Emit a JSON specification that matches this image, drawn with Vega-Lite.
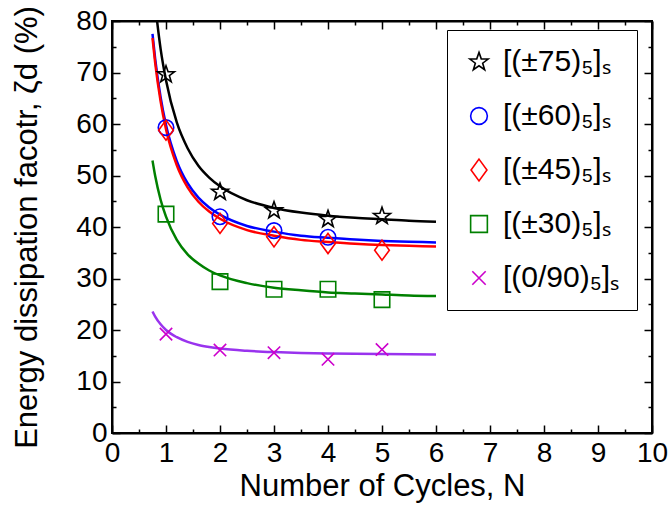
{
  "$schema": "https://vega.github.io/schema/vega-lite/v6.json",
  "width": 540,
  "height": 412,
  "autosize": "none",
  "padding": {"left": 112, "top": 21, "right": 18, "bottom": 82},
  "background": "white",
  "config": {
    "font": "Liberation Sans",
    "view": {"stroke": "black", "strokeWidth": 2},
    "axis": {"grid": false, "domainColor": "black", "domainWidth": 2, "tickColor": "black", "tickWidth": 1.5, "labelColor": "black", "titleColor": "black", "labelFontSize": 28, "titleFontSize": 31, "titleFontWeight": "normal", "labelFont": "Liberation Sans", "titleFont": "Liberation Sans"}
  },
  "datasets": {
    "pts": [
      {"series": "[(±75)₅]ₛ", "x": 1, "y": 69.6},
      {"series": "[(±75)₅]ₛ", "x": 2, "y": 46.8},
      {"series": "[(±75)₅]ₛ", "x": 3, "y": 43.2},
      {"series": "[(±75)₅]ₛ", "x": 4, "y": 41.5},
      {"series": "[(±75)₅]ₛ", "x": 5, "y": 42.1},
      {"series": "[(±60)₅]ₛ", "x": 1, "y": 59.3},
      {"series": "[(±60)₅]ₛ", "x": 2, "y": 42.0},
      {"series": "[(±60)₅]ₛ", "x": 3, "y": 39.3},
      {"series": "[(±60)₅]ₛ", "x": 4, "y": 38.0},
      {"series": "[(±45)₅]ₛ", "x": 1, "y": 58.8},
      {"series": "[(±45)₅]ₛ", "x": 2, "y": 40.7},
      {"series": "[(±45)₅]ₛ", "x": 3, "y": 38.1},
      {"series": "[(±45)₅]ₛ", "x": 4, "y": 36.8},
      {"series": "[(±45)₅]ₛ", "x": 5, "y": 35.5},
      {"series": "[(±30)₅]ₛ", "x": 1, "y": 42.5},
      {"series": "[(±30)₅]ₛ", "x": 2, "y": 29.4},
      {"series": "[(±30)₅]ₛ", "x": 3, "y": 27.9},
      {"series": "[(±30)₅]ₛ", "x": 4, "y": 27.9},
      {"series": "[(±30)₅]ₛ", "x": 5, "y": 25.9},
      {"series": "[(0/90)₅]ₛ", "x": 1, "y": 19.2},
      {"series": "[(0/90)₅]ₛ", "x": 2, "y": 16.1},
      {"series": "[(0/90)₅]ₛ", "x": 3, "y": 15.6},
      {"series": "[(0/90)₅]ₛ", "x": 4, "y": 14.3},
      {"series": "[(0/90)₅]ₛ", "x": 5, "y": 16.2}
    ],
    "fit": [
      {"curve": "fit75", "x": 0.8, "y": 83.1},
      {"curve": "fit75", "x": 0.9, "y": 74.6},
      {"curve": "fit75", "x": 1, "y": 68.5},
      {"curve": "fit75", "x": 1.2, "y": 60.3},
      {"curve": "fit75", "x": 1.4, "y": 55.3},
      {"curve": "fit75", "x": 1.6, "y": 51.9},
      {"curve": "fit75", "x": 1.8, "y": 49.6},
      {"curve": "fit75", "x": 2, "y": 47.9},
      {"curve": "fit75", "x": 2.5, "y": 45.2},
      {"curve": "fit75", "x": 3, "y": 43.7},
      {"curve": "fit75", "x": 3.5, "y": 42.8},
      {"curve": "fit75", "x": 4, "y": 42.2},
      {"curve": "fit75", "x": 4.5, "y": 41.8},
      {"curve": "fit75", "x": 5, "y": 41.5},
      {"curve": "fit75", "x": 5.5, "y": 41.2},
      {"curve": "fit75", "x": 6, "y": 41.0},
      {"curve": "fit60", "x": 0.75, "y": 77.5},
      {"curve": "fit60", "x": 0.8, "y": 72.6},
      {"curve": "fit60", "x": 0.9, "y": 65.2},
      {"curve": "fit60", "x": 1, "y": 59.8},
      {"curve": "fit60", "x": 1.2, "y": 52.8},
      {"curve": "fit60", "x": 1.4, "y": 48.5},
      {"curve": "fit60", "x": 1.6, "y": 45.7},
      {"curve": "fit60", "x": 1.8, "y": 43.8},
      {"curve": "fit60", "x": 2, "y": 42.4},
      {"curve": "fit60", "x": 2.5, "y": 40.2},
      {"curve": "fit60", "x": 3, "y": 39.1},
      {"curve": "fit60", "x": 3.5, "y": 38.3},
      {"curve": "fit60", "x": 4, "y": 37.9},
      {"curve": "fit60", "x": 4.5, "y": 37.55},
      {"curve": "fit60", "x": 5, "y": 37.3},
      {"curve": "fit60", "x": 5.5, "y": 37.15},
      {"curve": "fit60", "x": 6, "y": 37.0},
      {"curve": "fit45", "x": 0.75, "y": 76.7},
      {"curve": "fit45", "x": 0.8, "y": 71.8},
      {"curve": "fit45", "x": 0.9, "y": 64.4},
      {"curve": "fit45", "x": 1, "y": 59.0},
      {"curve": "fit45", "x": 1.2, "y": 52.0},
      {"curve": "fit45", "x": 1.4, "y": 47.7},
      {"curve": "fit45", "x": 1.6, "y": 44.9},
      {"curve": "fit45", "x": 1.8, "y": 43.0},
      {"curve": "fit45", "x": 2, "y": 41.6},
      {"curve": "fit45", "x": 2.5, "y": 39.4},
      {"curve": "fit45", "x": 3, "y": 38.3},
      {"curve": "fit45", "x": 3.5, "y": 37.5},
      {"curve": "fit45", "x": 4, "y": 37.1},
      {"curve": "fit45", "x": 4.5, "y": 36.75},
      {"curve": "fit45", "x": 5, "y": 36.5},
      {"curve": "fit45", "x": 5.5, "y": 36.35},
      {"curve": "fit45", "x": 6, "y": 36.2},
      {"curve": "fit30", "x": 0.75, "y": 52.9},
      {"curve": "fit30", "x": 0.8, "y": 49.9},
      {"curve": "fit30", "x": 0.9, "y": 45.3},
      {"curve": "fit30", "x": 1, "y": 42.0},
      {"curve": "fit30", "x": 1.2, "y": 37.5},
      {"curve": "fit30", "x": 1.4, "y": 34.7},
      {"curve": "fit30", "x": 1.6, "y": 32.9},
      {"curve": "fit30", "x": 1.8, "y": 31.55},
      {"curve": "fit30", "x": 2, "y": 30.6},
      {"curve": "fit30", "x": 2.5, "y": 29.1},
      {"curve": "fit30", "x": 3, "y": 28.2},
      {"curve": "fit30", "x": 3.5, "y": 27.7},
      {"curve": "fit30", "x": 4, "y": 27.3},
      {"curve": "fit30", "x": 4.5, "y": 27.1},
      {"curve": "fit30", "x": 5, "y": 26.9},
      {"curve": "fit30", "x": 5.5, "y": 26.7},
      {"curve": "fit30", "x": 6, "y": 26.6},
      {"curve": "fit090", "x": 0.75, "y": 23.6},
      {"curve": "fit090", "x": 0.8, "y": 22.6},
      {"curve": "fit090", "x": 0.9, "y": 21.1},
      {"curve": "fit090", "x": 1, "y": 20.0},
      {"curve": "fit090", "x": 1.2, "y": 18.6},
      {"curve": "fit090", "x": 1.4, "y": 17.7},
      {"curve": "fit090", "x": 1.6, "y": 17.1},
      {"curve": "fit090", "x": 1.8, "y": 16.7},
      {"curve": "fit090", "x": 2, "y": 16.4},
      {"curve": "fit090", "x": 2.5, "y": 15.96},
      {"curve": "fit090", "x": 3, "y": 15.71},
      {"curve": "fit090", "x": 3.5, "y": 15.55},
      {"curve": "fit090", "x": 4, "y": 15.45},
      {"curve": "fit090", "x": 4.5, "y": 15.38},
      {"curve": "fit090", "x": 5, "y": 15.33},
      {"curve": "fit090", "x": 5.5, "y": 15.29},
      {"curve": "fit090", "x": 6, "y": 15.26}
    ]
  },
  "resolve": {"axis": {"x": "independent", "y": "independent"}},
  "layer": [
    {
      "data": {"name": "fit"},
      "mark": {"type": "line", "clip": true, "strokeWidth": 2.5, "interpolate": "monotone"},
      "encoding": {
        "x": {"field": "x", "type": "quantitative", "scale": {"domain": [0, 10], "nice": false, "zero": false},
              "axis": {"orient": "bottom", "values": [0,1,2,3,4,5,6,7,8,9,10], "tickSize": -8, "labelPadding": 14, "labelFlush": false, "labelOverlap": false, "title": "Number of Cycles, N", "titlePadding": 4}},
        "y": {"field": "y", "type": "quantitative", "scale": {"domain": [0, 80], "nice": false},
              "axis": {"orient": "left", "values": [0,10,20,30,40,50,60,70,80], "tickSize": -8, "labelPadding": 13, "labelFlush": false, "labelOverlap": false, "title": "Energy dissipation facotr, ζd (%)", "titlePadding": 32}},
        "stroke": {"field": "curve", "type": "nominal", "legend": null,
                   "scale": {"domain": ["fit75", "fit60", "fit45", "fit30", "fit090"], "range": ["#000000", "#0000ff", "#ff0000", "#008000", "#9933ee"]}}
      }
    },
    {
      "data": {"name": "pts"},
      "mark": {"type": "point", "filled": false, "strokeWidth": 1.6, "size": 240, "opacity": 1},
      "encoding": {
        "x": {"field": "x", "type": "quantitative",
              "axis": {"orient": "bottom", "values": [0.5,1.5,2.5,3.5,4.5,5.5,6.5,7.5,8.5,9.5], "tickSize": -4, "labels": false, "domain": false, "title": null}},
        "y": {"field": "y", "type": "quantitative",
              "axis": {"orient": "left", "values": [5,15,25,35,45,55,65,75], "tickSize": -4, "labels": false, "domain": false, "title": null}},
        "color": {"field": "series", "type": "nominal",
                  "scale": {"domain": ["[(±75)₅]ₛ", "[(±60)₅]ₛ", "[(±45)₅]ₛ", "[(±30)₅]ₛ", "[(0/90)₅]ₛ"], "range": ["#000000", "#0000ff", "#ff0000", "#008000", "#cc00cc"]},
                  "legend": {"title": null, "orient": "none", "legendX": 335, "legendY": 9, "padding": 17, "strokeColor": "black", "fillColor": "white", "labelFontSize": 30, "labelFont": "Liberation Sans", "labelColor": "black", "labelOffset": 9, "rowPadding": 24, "symbolSize": 280, "symbolStrokeWidth": 1.6, "symbolOpacity": 1, "labelLimit": 300}},
        "shape": {"field": "series", "type": "nominal",
                  "scale": {"domain": ["[(±75)₅]ₛ", "[(±60)₅]ₛ", "[(±45)₅]ₛ", "[(±30)₅]ₛ", "[(0/90)₅]ₛ"],
                            "range": ["M0,-1.15L0.27,-0.373L1.094,-0.355L0.437,0.143L0.676,0.93L0,0.46L-0.676,0.93L-0.437,0.143L-1.094,-0.355L-0.27,-0.373Z", "circle", "M0,-1.3L0.95,0L0,1.3L-0.95,0Z", "square", "M-0.8,-0.8L0.8,0.8M-0.8,0.8L0.8,-0.8"]}}
      }
    },
    {
      "data": {"name": "pts"},
      "mark": {"type": "point", "opacity": 0},
      "encoding": {
        "x": {"field": "x", "type": "quantitative",
              "axis": {"orient": "top", "values": [0,1,2,3,4,5,6,7,8,9,10], "tickSize": -8, "labels": false, "title": null}},
        "y": {"field": "y", "type": "quantitative",
              "axis": {"orient": "right", "values": [0,10,20,30,40,50,60,70,80], "tickSize": -8, "labels": false, "title": null}}
      }
    },
    {
      "data": {"name": "pts"},
      "mark": {"type": "point", "opacity": 0},
      "encoding": {
        "x": {"field": "x", "type": "quantitative",
              "axis": {"orient": "top", "values": [0.5,1.5,2.5,3.5,4.5,5.5,6.5,7.5,8.5,9.5], "tickSize": -4, "labels": false, "domain": false, "title": null}},
        "y": {"field": "y", "type": "quantitative",
              "axis": {"orient": "right", "values": [5,15,25,35,45,55,65,75], "tickSize": -4, "labels": false, "domain": false, "title": null}}
      }
    }
  ]
}
